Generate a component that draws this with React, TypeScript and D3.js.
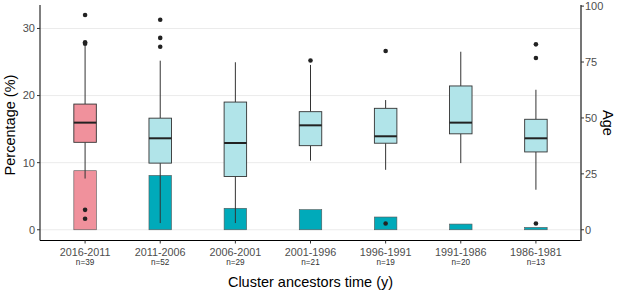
import React from "react";
import * as d3 from "d3";

const categories = ["2016-2011", "2011-2006", "2006-2001", "2001-1996", "1996-1991", "1991-1986", "1986-1981"];
const counts = ["n=39", "n=52", "n=29", "n=21", "n=19", "n=20", "n=13"];
const percentages = [8.8, 8.1, 3.2, 3.0, 1.9, 0.85, 0.35];
const whiskerLow = [22.9, 3.0, 3.0, 30.9, 26.8, 29.8, 17.9];
const q1 = [39.1, 29.8, 23.8, 37.6, 38.7, 42.9, 34.8];
const medians = [47.9, 40.9, 38.8, 46.7, 41.8, 47.9, 40.9];
const q3 = [56.2, 49.9, 57.1, 52.8, 54.3, 64.3, 49.4];
const whiskerHigh = [82.3, 75.6, 74.9, 73.7, 58.0, 79.6, 62.6];
const outliers: number[][] = [
  [96.0, 83.8, 83.2, 8.9, 4.9],
  [93.9, 85.8, 81.8],
  [],
  [75.7],
  [79.9, 2.8],
  [],
  [82.9, 76.8, 2.8],
];
const pctTicks = [0, 10, 20, 30];
const ageTicks = [0, 25, 50, 75, 100];

const W = 617;
const H = 290;
const L = 40;
const R = 581;
const T = 5;
const B = 240.5;
const FONT = "'Liberation Sans', Arial, sans-serif";

export default function App() {
  const x = d3.scalePoint<string>().domain(categories).range([L, R]).padding(0.6);
  const yP = d3.scaleLinear().domain([-1.6, 33.5]).range([B, T]);
  const yA = d3.scaleLinear().domain([-4.8, 100.5]).range([B, T]);
  const bw = 22.5;
  const pink = "#F0919C";
  const teal = "#00AABA";
  const light = "#B1E4E9";
  return (
    <svg width={W} height={H} style={{ position: "absolute", left: 0, top: 0 }} fontFamily={FONT}>
      <rect width={W} height={H} fill="#fff" />
      {pctTicks.map((t) => (
        <line key={"g" + t} x1={L} x2={R} y1={yP(t)} y2={yP(t)} stroke="#ebebeb" strokeWidth={1} />
      ))}
      {categories.map((c, i) => {
        const cx = x(c)!;
        return (
          <rect key={"b" + c} x={cx - bw / 2} y={yP(percentages[i])} width={bw} height={yP(0) - yP(percentages[i])}
            fill={i === 0 ? pink : teal} stroke="#555" strokeWidth={0.6} />
        );
      })}
      {categories.map((c, i) => {
        const cx = x(c)!;
        return (
          <g key={"bx" + c}>
            <line x1={cx} x2={cx} y1={yA(q3[i])} y2={yA(whiskerHigh[i])} stroke="#333" strokeWidth={1} />
            <line x1={cx} x2={cx} y1={yA(q1[i])} y2={yA(whiskerLow[i])} stroke="#333" strokeWidth={1} />
            <rect x={cx - bw / 2} y={yA(q3[i])} width={bw} height={yA(q1[i]) - yA(q3[i])}
              fill={i === 0 ? pink : light} stroke="#333" strokeWidth={0.9} />
            <line x1={cx - bw / 2} x2={cx + bw / 2} y1={yA(medians[i])} y2={yA(medians[i])} stroke="#222" strokeWidth={2} />
            {outliers[i].map((o, j) => (
              <circle key={j} cx={cx} cy={yA(o)} r={2.3} fill="#222" />
            ))}
          </g>
        );
      })}
      <line x1={L} x2={L} y1={T} y2={B} stroke="#000" strokeWidth={1} />
      <line x1={L} x2={R} y1={B} y2={B} stroke="#000" strokeWidth={1} />
      <line x1={R} x2={R} y1={T} y2={B + 0.5} stroke="#666" strokeWidth={1.8} />
      {pctTicks.map((t) => (
        <g key={"pt" + t}>
          <line x1={L - 3} x2={L} y1={yP(t)} y2={yP(t)} stroke="#333" />
          <text x={L - 5} y={yP(t)} dy="0.35em" textAnchor="end" fontSize={11} fill="#4d4d4d">{t}</text>
        </g>
      ))}
      {ageTicks.map((t) => (
        <g key={"at" + t}>
          <line x1={R} x2={R + 3} y1={yA(t)} y2={yA(t)} stroke="#333" />
          <text x={R + 4} y={yA(t)} dy="0.35em" textAnchor="start" fontSize={11} fill="#4d4d4d">{t}</text>
        </g>
      ))}
      {categories.map((c, i) => (
        <g key={"xt" + c}>
          <line x1={x(c)!} x2={x(c)!} y1={B} y2={B + 3} stroke="#333" />
          <text x={x(c)!} y={252} dy="0.35em" textAnchor="middle" fontSize={10.8} fill="#4d4d4d">{c}</text>
          <text x={x(c)!} y={262.5} dy="0.35em" textAnchor="middle" fontSize={8.2} fill="#333">{counts[i]}</text>
        </g>
      ))}
      <text x={(L + R) / 2} y={282} dy="0.35em" textAnchor="middle" fontSize={14.5} fill="#000">Cluster ancestors time (y)</text>
      <text transform={`translate(10,125) rotate(-90)`} dy="0.35em" textAnchor="middle" fontSize={14.5} fill="#000">Percentage (%)</text>
      <text transform={`translate(608,123) rotate(90)`} dy="0.35em" textAnchor="middle" fontSize={14.5} fill="#000">Age</text>
    </svg>
  );
}
